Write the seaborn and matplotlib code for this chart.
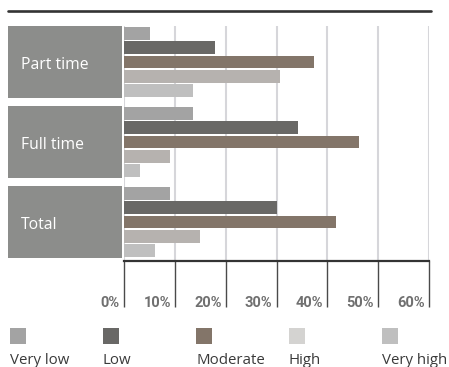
import matplotlib
matplotlib.use("Agg")
import matplotlib.pyplot as plt
from matplotlib.patches import Rectangle
from matplotlib.transforms import blended_transform_factory, ScaledTranslation
from matplotlib.lines import Line2D
import seaborn as sns
import pandas as pd

# Share of workers (%) by intensity level, for each employment type
categories = ["Part time", "Full time", "Total"]
levels = ["Very low", "Low", "Moderate", "High", "Very high"]
very_low = [5.1, 13.6, 9.1]
low = [17.9, 34.2, 30.0]
moderate = [37.4, 46.3, 41.7]
high = [30.7, 9.1, 15.0]
very_high = [13.6, 3.1, 6.1]
tick_values = [0, 10, 20, 30, 40, 50, 60]
tick_labels = ["0%", "10%", "20%", "30%", "40%", "50%", "60%"]

bar_colors = ["#a3a3a3", "#696866", "#837569", "#b6b2af", "#bfbfbf"]
legend_colors = ["#a3a3a3", "#696866", "#837569", "#d4d3d1", "#bfbfbf"]

rows = []
for lvl, vals in zip(levels, [very_low, low, moderate, high, very_high]):
    for cat, v in zip(categories, vals):
        rows.append({"category": cat, "level": lvl, "value": v})
df = pd.DataFrame(rows)

sns.set_style("white")
plt.rcParams["font.family"] = ["Open Sans", "DejaVu Sans"]

W, H = 449, 367
fig = plt.figure(figsize=(W / 100, H / 100), dpi=100)

# Plot area in pixel terms: x 124..429, y 26..261 (from top)
left, right, top, bottom = 124, 429, 26, 261
ax = fig.add_axes([left / W, 1 - bottom / H, (right - left) / W, (bottom - top) / H])

sns.barplot(
    data=df, y="category", x="value", hue="level",
    order=categories, hue_order=levels, palette=bar_colors,
    orient="h", width=0.9, gap=0.12, ax=ax, legend=False,
    saturation=1, linewidth=0, errorbar=None,
)

ax.set_xlim(0, 60)
ax.set_ylim(2.4875, -0.45)
ax.set_xlabel("")
ax.set_ylabel("")
ax.set_yticks([])
ax.set_xticks(tick_values)
ax.set_xticklabels([])

for s in ["top", "left", "right"]:
    ax.spines[s].set_visible(False)
ax.spines["bottom"].set_color("#333333")
ax.spines["bottom"].set_linewidth(1.6)

ax.set_axisbelow(True)
ax.xaxis.grid(True, color="#d6d6da", linewidth=1.5)
ax.tick_params(axis="x", bottom=True, direction="out", length=33, width=1.0,
               color="#4a4a4a", pad=0)

# Percent labels sit to the left of each tick line
label_tf = ax.get_xaxis_transform() + ScaledTranslation(-4 / 100, 0, fig.dpi_scale_trans)
for v, t in zip(tick_values, tick_labels):
    ax.text(v, -45.7 / (bottom - top), t, transform=label_tf, ha="right", va="baseline",
            fontsize=10.5, fontweight="bold", color="#707070",
            family=["Roboto", "DejaVu Sans"])

# Category label boxes on the left
box_tf = blended_transform_factory(fig.transFigure, ax.transData)
for i, cat in enumerate(categories):
    ax.add_patch(Rectangle((8 / W, i - 0.45), 114 / W, 0.9, transform=box_tf,
                           facecolor="#8c8d8b", edgecolor="none", clip_on=False))
    ax.text(21 / W, i + 0.09, cat, transform=box_tf, ha="left", va="baseline",
            fontsize=11.3, color="white", fontweight="medium", clip_on=False)

# Heading rule across the top
fig.add_artist(Line2D([8 / W, 431 / W], [1 - 11 / H, 1 - 11 / H], transform=fig.transFigure,
                      color="#333333", linewidth=1.9))

# Legend: swatch above each label
legend_x = [10, 103, 196, 289, 382]
for x, lvl, c in zip(legend_x, levels, legend_colors):
    fig.add_artist(Rectangle((x / W, 1 - 344 / H), 16 / W, 16 / H, transform=fig.transFigure,
                             facecolor=c, edgecolor="none"))
    fig.text(x / W, 1 - 364 / H, lvl, ha="left", va="baseline", fontsize=10.8, color="#3a3a3a")

fig.savefig("out.png", dpi=100)
